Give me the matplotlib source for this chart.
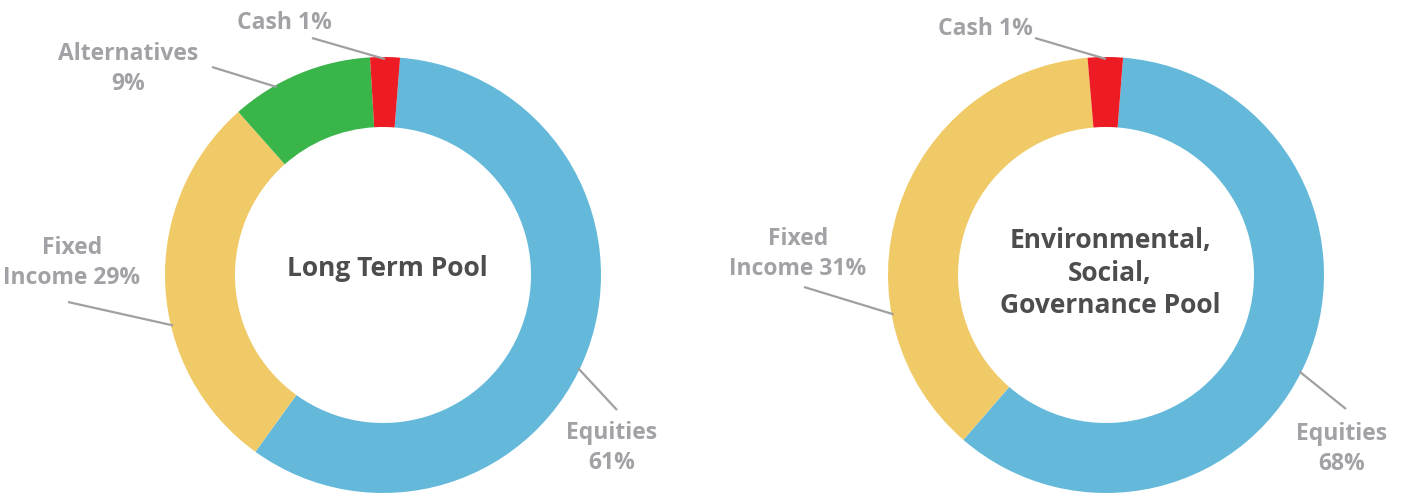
import numpy as np
import matplotlib.pyplot as plt

# slice sizes as drawn (the printed labels are rounded differently)
ltp_names = ["Equities", "Fixed Income", "Alternatives", "Cash"]
ltp_values = [58.7, 28.5, 10.6, 2.2]
ltp_labels = ["Equities\n61%", "Fixed\nIncome 29%", "Alternatives\n9%", "Cash 1%"]

esg_names = ["Equities", "Fixed Income", "Cash"]
esg_values = [60.1, 37.3, 2.6]
esg_labels = ["Equities\n68%", "Fixed\nIncome 31%", "Cash 1%"]

colors = {"Equities": "#64B9DA", "Fixed Income": "#F0CA67",
          "Alternatives": "#39B54A", "Cash": "#ED1C24"}

W, H = 1401, 495
label_col = "#A2A2A6"
line_col = "#A0A0A0"
title_col = "#4D4D4F"
plt.rcParams['font.family'] = ['Open Sans', 'DejaVu Sans']

fig = plt.figure(figsize=(W / 100, H / 100), dpi=100)
ax = fig.add_axes([0, 0, 1, 1])


def Y(y):
  # pixel row -> data y
  return H - y


def donut(cx, cy, names, values, labels, label_pos, leader, title, title_y):
  ax.pie(values, colors=[colors[n] for n in names], startangle=85.5,
         counterclock=False, radius=218, center=(cx, Y(cy)),
         wedgeprops=dict(width=70, linewidth=0))
  for lab, (lx, ly) in zip(labels, label_pos):
    ax.text(lx, Y(ly), lab, ha="center", va="center", fontsize=16.5,
            fontweight="bold", color=label_col, linespacing=1.3)
  for (x1, y1), ang in leader:
    a = np.deg2rad(ang)
    x2 = cx + 216 * np.cos(a)
    y2 = Y(cy) + 216 * np.sin(a)
    ax.plot([x1, x2], [Y(y1), y2], color=line_col, lw=1.6,
            solid_capstyle="butt")
  ax.text(cx + 4, Y(title_y), title, ha="center", va="center", fontsize=19,
          fontweight="bold", color=title_col, linespacing=1.28)


donut(383, 275, ltp_names, ltp_values, ltp_labels,
      [(612, 448), (72, 263), (128, 69), (284, 23)],
      [((617, 410), -25.5), ((68, 302), 193.5), ((212, 67), 119.5),
       ((312, 38), 89.5)],
      "Long Term Pool", 269)

donut(1106, 275, esg_names, esg_values, esg_labels,
      [(1342, 449), (798, 254), (985, 29)],
      [((1346, 409), -26.5), ((804, 287), 190.5), ((1035, 38), 90)],
      "Environmental,\nSocial,\nGovernance Pool", 273)

ax.set_xlim(0, W)
ax.set_ylim(0, H)
ax.set_aspect("auto")
ax.set_axis_off()

fig.savefig("out.png", dpi=100)
